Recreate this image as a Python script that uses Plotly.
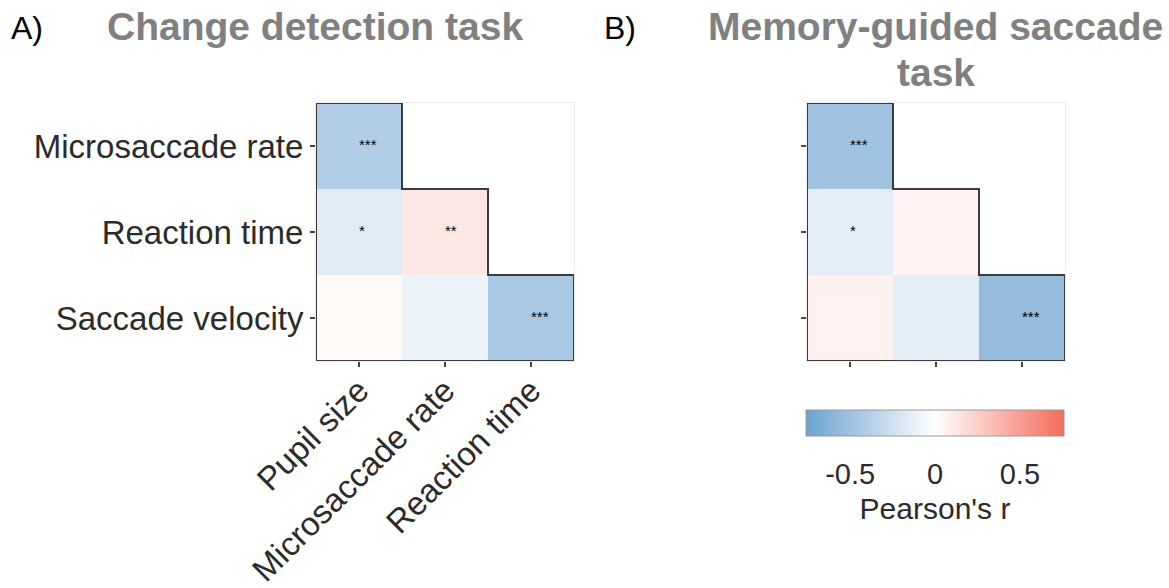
import plotly.graph_objects as go

# ---------------- data ----------------
row_labels = ["Microsaccade rate", "Reaction time", "Saccade velocity"]
col_labels = ["Pupil size", "Microsaccade rate", "Reaction time"]

r_change = [[-0.40, None, None],
            [-0.16, 0.12, None],
            [0.03, -0.10, -0.45]]
stars_change = [["***", "", ""],
                ["*", "**", ""],
                ["", "", "***"]]

r_memory = [[-0.50, None, None],
            [-0.15, 0.06, None],
            [0.07, -0.14, -0.55]]
stars_memory = [["***", "", ""],
                ["*", "", ""],
                ["", "", "***"]]

cbar_ticks = [-0.5, 0, 0.5]
cbar_ticktext = ["-0.5", "0", "0.5"]

# ---------------- figure ----------------
W, H = 1169, 588
FONT = "Liberation Sans, Arial, sans-serif"
TXT = "#2b2b2b"

def px_x(p):
    return p / W

def px_y(p):
    return 1 - p / H

n = len(row_labels)
idx = list(range(n))

fig = go.Figure()
panels = [(r_change, stars_change, "x", "y"), (r_memory, stars_memory, "x2", "y2")]
for z, stars, xa, ya in panels:
    fig.add_trace(go.Heatmap(
        z=z, x=idx, y=idx, coloraxis="coloraxis",
        xaxis=xa, yaxis=ya, hoverongaps=False,
    ))
    sx, sy, st = [], [], []
    for i in range(n):
        for j in range(n):
            if stars[i][j]:
                sx.append(j)
                sy.append(i)
                st.append(stars[i][j])
    fig.add_trace(go.Scatter(
        x=sx, y=sy, text=st, mode="text", textposition="middle right",
        textfont=dict(size=15, color="black", family=FONT),
        xaxis=xa, yaxis=ya, showlegend=False, hoverinfo="skip",
    ))

ydom = [px_y(361), px_y(103)]
axis_common = dict(
    range=[-0.5, n - 0.5], showgrid=False, zeroline=False, automargin=False,
    showline=True, mirror=True, linecolor="#ececec", linewidth=1,
    ticks="outside", ticklen=5, tickwidth=1.5, tickcolor="#444",
    tickvals=idx, tickfont=dict(size=33, color=TXT, family=FONT),
)

fig.update_layout(
    width=W, height=H,
    margin=dict(l=0, r=0, t=0, b=0, autoexpand=False),
    paper_bgcolor="white", plot_bgcolor="white",
    font=dict(family=FONT, color=TXT),
    showlegend=False,
    xaxis=dict(axis_common, domain=[px_x(316), px_x(574)], anchor="y",
               ticktext=col_labels, tickangle=-45, ticklabelstandoff=-9),
    yaxis=dict(axis_common, domain=ydom, anchor="x",
               range=[n - 0.5, -0.5], ticktext=row_labels),
    xaxis2=dict(axis_common, domain=[px_x(807), px_x(1065)], anchor="y2",
                showticklabels=False),
    yaxis2=dict(axis_common, domain=ydom, anchor="x2",
                range=[n - 0.5, -0.5], showticklabels=False),
    coloraxis=dict(
        cmin=-0.76, cmax=0.76,
        colorscale=[[0, "rgb(108,162,208)"], [0.5, "rgb(255,255,255)"],
                    [1, "rgb(244,108,90)"]],
        colorbar=dict(
            orientation="h",
            x=px_x(935), xanchor="center",
            y=px_y(410), yanchor="top",
            lenmode="fraction", len=258 / W,
            thicknessmode="pixels", thickness=26,
            xpad=0, ypad=0,
            outlinecolor="#999", outlinewidth=1,
            tickvals=cbar_ticks, ticktext=cbar_ticktext,
            ticks="outside", ticklen=13, tickcolor="rgba(0,0,0,0)",
            tickfont=dict(size=29, color=TXT, family=FONT),
            title=dict(text="Pearson's r", side="bottom",
                       font=dict(size=30, color=TXT, family=FONT)),
        ),
    ),
)

# staircase outline around the lower triangle, built from the category count
def stair_path():
    pts = [(-0.5, -0.5)]
    for i in range(n):
        pts.append((i + 0.5, i - 0.5))
        pts.append((i + 0.5, i + 0.5))
    pts[-1] = (n - 0.5, n - 0.5)
    pts.append((-0.5, n - 0.5))
    return "M " + " L ".join(f"{x},{y}" for x, y in pts) + " Z"

for xr, yr in (("x", "y"), ("x2", "y2")):
    fig.add_shape(type="path", path=stair_path(), xref=xr, yref=yr,
                  line=dict(color="#3c3c3c", width=2), fillcolor="rgba(0,0,0,0)")

# titles and panel letters
title_font = dict(size=39, color="#808080", family=FONT, weight="bold")
letter_font = dict(size=32, color="black", family=FONT)
annos = [
    dict(text="A)", x=px_x(9), y=px_y(28), xanchor="left", font=letter_font),
    dict(text="B)", x=px_x(602), y=px_y(28), xanchor="left", font=letter_font),
    dict(text="Change detection task", x=px_x(315), y=px_y(26),
         xanchor="center", font=title_font),
    dict(text="Memory-guided saccade", x=px_x(935), y=px_y(26),
         xanchor="center", font=title_font),
    dict(text="task", x=px_x(936), y=px_y(73),
         xanchor="center", font=title_font),
]
for a in annos:
    fig.add_annotation(xref="paper", yref="paper", yanchor="middle",
                       showarrow=False, **a)

fig.write_html("out.html")
